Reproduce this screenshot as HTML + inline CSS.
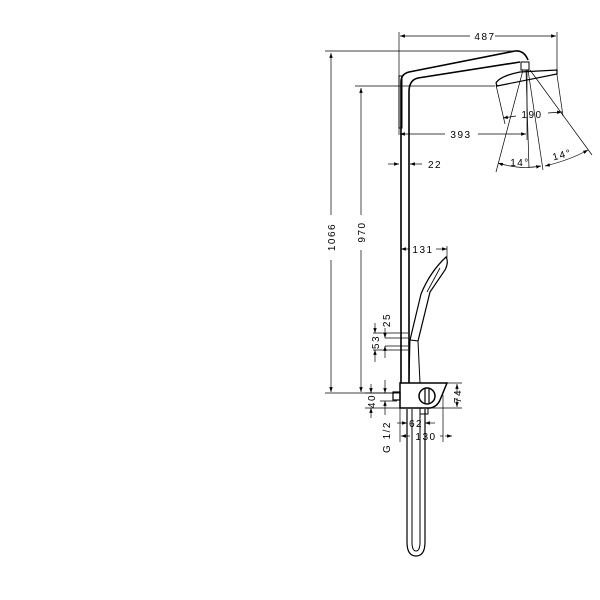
<!DOCTYPE html>
<html><head><style>body{margin:0;background:#fff}svg{display:block}text{font-family:"Liberation Sans",sans-serif;font-size:10px;fill:#000;letter-spacing:1.5px}</style></head>
<body>
<svg width="600" height="600" viewBox="0 0 600 600" xmlns="http://www.w3.org/2000/svg">
<defs>
<marker id="a" viewBox="0 0 10 10" refX="10" refY="5" markerWidth="7" markerHeight="7" orient="auto-start-reverse"><path d="M0,1.5 L10,5 L0,8.5z" fill="#000"/></marker>
</defs>
<g fill="none" stroke="#000" stroke-width="0.7">
<!-- extension lines -->
<line x1="399" y1="32" x2="399" y2="135"/>
<line x1="557" y1="32" x2="557" y2="75"/>
<line x1="325" y1="51" x2="515" y2="51"/>
<line x1="355" y1="86" x2="495" y2="86"/>
<line x1="325" y1="393" x2="400" y2="393"/>
<line x1="527" y1="70" x2="527" y2="140"/>
<!-- dims -->
<line x1="400" y1="36" x2="470" y2="36" marker-start="url(#a)"/>
<line x1="495" y1="36" x2="556" y2="36" marker-end="url(#a)"/>
<line x1="331" y1="53" x2="331" y2="215" marker-start="url(#a)"/>
<line x1="331" y1="260" x2="331" y2="392" marker-end="url(#a)"/>
<line x1="361" y1="88" x2="361" y2="215" marker-start="url(#a)"/>
<line x1="361" y1="250" x2="361" y2="392" marker-end="url(#a)"/>
<line x1="400" y1="134" x2="445" y2="134" marker-start="url(#a)"/>
<line x1="478" y1="134" x2="526" y2="134" marker-end="url(#a)"/>
<line x1="503" y1="118" x2="516" y2="116" marker-start="url(#a)"/>
<line x1="548" y1="113" x2="562" y2="112" marker-end="url(#a)"/>
<line x1="496" y1="85" x2="505" y2="124"/>
<line x1="557" y1="75" x2="563" y2="116"/>
<line x1="523" y1="70" x2="496" y2="172"/>
<line x1="526" y1="70" x2="529" y2="168"/>
<line x1="528" y1="70" x2="543" y2="170"/>
<line x1="530" y1="70" x2="592" y2="155"/>
<path d="M498,163 Q520,170 541,166" marker-start="url(#a)" marker-end="url(#a)"/>
<path d="M545,166 Q570,160 588,150" marker-start="url(#a)" marker-end="url(#a)"/>
<line x1="388" y1="164" x2="399" y2="164" marker-end="url(#a)"/>
<line x1="422" y1="164" x2="410" y2="164" marker-end="url(#a)"/>
<line x1="401" y1="249" x2="410" y2="249" marker-start="url(#a)"/>
<line x1="436" y1="249" x2="447" y2="249" marker-end="url(#a)"/>
<line x1="447" y1="246" x2="447" y2="258"/>
<!-- 25 / 53 -->
<line x1="373" y1="333" x2="408" y2="333"/>
<line x1="385" y1="338" x2="408" y2="338"/>
<line x1="385" y1="346" x2="408" y2="346"/>
<line x1="373" y1="350" x2="408" y2="350"/>
<line x1="375" y1="323" x2="375" y2="333" marker-end="url(#a)"/>
<line x1="385" y1="358" x2="385" y2="346" marker-end="url(#a)"/>
<line x1="385" y1="328" x2="385" y2="338" marker-end="url(#a)"/>
<line x1="375" y1="362" x2="375" y2="350" marker-end="url(#a)"/>
<!-- 40 -->
<line x1="365" y1="393" x2="400" y2="393"/>
<line x1="365" y1="408" x2="400" y2="408"/>
<line x1="380" y1="401" x2="397" y2="401"/>
<line x1="371" y1="384" x2="371" y2="393" marker-end="url(#a)"/>
<line x1="371" y1="418" x2="371" y2="408" marker-end="url(#a)"/>
<line x1="385" y1="380" x2="385" y2="393" marker-end="url(#a)"/>
<line x1="385" y1="415" x2="385" y2="401" marker-end="url(#a)"/>
<!-- 74 -->
<line x1="443" y1="383" x2="462" y2="383"/>
<line x1="400" y1="408" x2="462" y2="408"/>
<line x1="457" y1="384" x2="457" y2="394" marker-start="url(#a)"/>
<line x1="457" y1="398" x2="457" y2="407" marker-end="url(#a)"/>
<!-- 62 130 -->
<line x1="397" y1="423" x2="407" y2="423" marker-end="url(#a)"/>
<line x1="435" y1="423" x2="425" y2="423" marker-end="url(#a)"/>
<line x1="401" y1="436" x2="410" y2="436" marker-start="url(#a)"/>
<line x1="440" y1="436" x2="443" y2="436" />
<line x1="445" y1="436" x2="452" y2="436" marker-end="url(#a)"/>
<line x1="400" y1="408" x2="400" y2="442"/>
<line x1="443" y1="395" x2="443" y2="442"/>
</g>
<!-- product -->
<g fill="none" stroke="#000" stroke-width="1.6">
<path d="M401,383 L401,82 Q401,74 409,72 L515,51 Q524,50 528,60"/>
<path d="M409,383 L409,92 Q409,80 418,78 L520,62"/>
<rect x="399" y="76" width="3" height="52" stroke-width="1"/>
<rect x="521" y="62" width="8" height="8" stroke-width="1"/>
<path d="M496,83 Q500,76 520,72 L557,70 L557,74 L497,86 Z" stroke-width="1.2"/>
<path d="M409,383 L410,340 L418,341 L420,383" stroke-width="1"/>
<path d="M410,340 L421,294 Q430,272 446,257 Q449,262 445,270 L430,292 L418,341" stroke-width="1.2"/>
<path d="M427,292 L440,268" stroke-width="0.8"/>
<path d="M400,383 L447,383 L440,400 Q437,407 430,408 L400,408 Z" stroke-width="1.5"/>
<circle cx="427" cy="396" r="8" stroke-width="1.5"/>
<line x1="425" y1="388" x2="425" y2="404" stroke-width="1.2"/>
<line x1="429" y1="388" x2="429" y2="404" stroke-width="1.2"/>
<rect x="393" y="392" width="7" height="8" stroke-width="1.2"/>
<path d="M407,409 L407,542 Q407,556 416,556 Q425,556 425,542 L425,409" stroke-width="1.2"/>
<path d="M412,409 L412,542 Q412,551 416,551 Q420,551 420,542 L420,409" stroke-width="1"/>
<rect x="420" y="408" width="8" height="6" stroke-width="1"/>
</g>
<text x="485" y="40" text-anchor="middle">487</text>
<text x="461" y="138" text-anchor="middle">393</text>
<text x="532" y="118" text-anchor="middle">190</text>
<text x="428" y="168">22</text>
<text x="423" y="253" text-anchor="middle">131</text>
<text x="520" y="166" text-anchor="middle" font-size="9">14°</text>
<text x="563" y="158" text-anchor="middle" font-size="9" transform="rotate(-15 563 158)">14°</text>
<text transform="translate(335,237) rotate(-90)" text-anchor="middle">1066</text>
<text transform="translate(365,232) rotate(-90)" text-anchor="middle">970</text>
<text transform="translate(390,320) rotate(-90)" text-anchor="middle">25</text>
<text transform="translate(379,342) rotate(-90)" text-anchor="middle">53</text>
<text transform="translate(375,401) rotate(-90)" text-anchor="middle">40</text>
<text transform="translate(390,437) rotate(-90)" text-anchor="middle">G 1/2</text>
<text transform="translate(461,396) rotate(-90)" text-anchor="middle">74</text>
<text x="416" y="427" text-anchor="middle">62</text>
<text x="426" y="440" text-anchor="middle">130</text>
</svg>
</body></html>
